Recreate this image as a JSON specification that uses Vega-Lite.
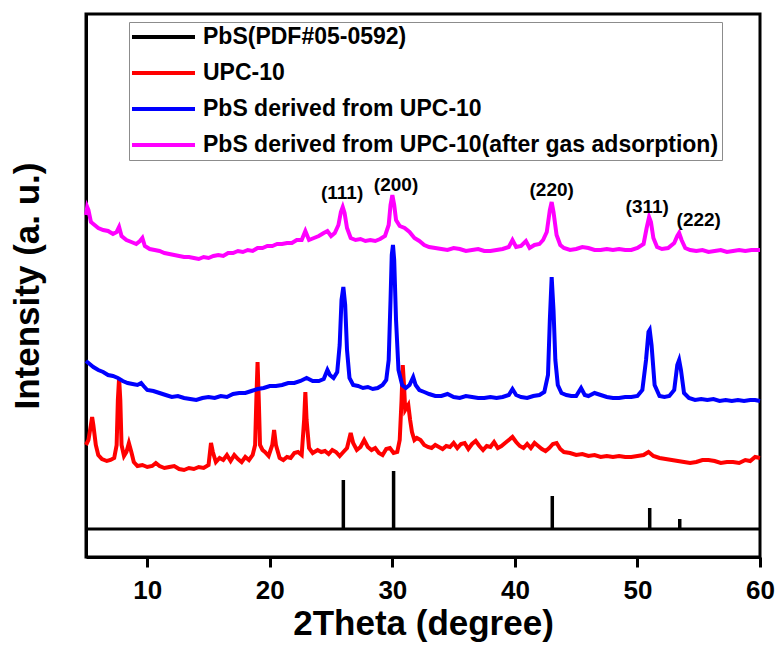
{
  "$schema": "https://vega.github.io/schema/vega-lite/v6.json",
  "width": 674,
  "height": 543,
  "autosize": {"type": "none"},
  "padding": {"left": 86, "top": 14, "right": 19, "bottom": 105},
  "background": "white",
  "datasets": {
    "red": [
      {"t":5.0,"i":112},{"t":5.2,"i":117},{"t":5.4,"i":132},{"t":5.5,"i":140},{"t":5.6,"i":132},{"t":5.8,"i":112},{"t":6.0,"i":102},{"t":6.3,"i":98},{"t":6.7,"i":96},{"t":7.0,"i":97},{"t":7.3,"i":99},{"t":7.5,"i":112},{"t":7.6,"i":157},{"t":7.7,"i":179},{"t":7.8,"i":157},{"t":7.9,"i":112},{"t":8.1,"i":101},{"t":8.3,"i":105},{"t":8.5,"i":114},{"t":8.7,"i":105},{"t":8.9,"i":95},{"t":9.2,"i":91},{"t":9.6,"i":92},{"t":10.0,"i":90},{"t":10.4,"i":91},{"t":10.7,"i":94},{"t":11.0,"i":91},{"t":11.4,"i":89},{"t":11.8,"i":90},{"t":12.2,"i":91},{"t":12.6,"i":88},{"t":13.0,"i":87},{"t":13.4,"i":89},{"t":13.8,"i":88},{"t":14.2,"i":90},{"t":14.6,"i":89},{"t":15.0,"i":92},{"t":15.2,"i":114},{"t":15.35,"i":105},{"t":15.6,"i":95},{"t":15.9,"i":99},{"t":16.2,"i":97},{"t":16.5,"i":102},{"t":16.8,"i":96},{"t":17.1,"i":102},{"t":17.4,"i":98},{"t":17.7,"i":95},{"t":18.0,"i":100},{"t":18.3,"i":97},{"t":18.6,"i":102},{"t":18.8,"i":112},{"t":18.9,"i":157},{"t":19.0,"i":195},{"t":19.1,"i":157},{"t":19.2,"i":112},{"t":19.4,"i":107},{"t":19.6,"i":105},{"t":19.9,"i":101},{"t":20.2,"i":112},{"t":20.35,"i":127},{"t":20.5,"i":112},{"t":20.8,"i":99},{"t":21.1,"i":97},{"t":21.4,"i":100},{"t":21.7,"i":99},{"t":22.0,"i":104},{"t":22.3,"i":105},{"t":22.6,"i":102},{"t":22.8,"i":137},{"t":22.9,"i":165},{"t":23.0,"i":137},{"t":23.2,"i":109},{"t":23.5,"i":104},{"t":23.9,"i":107},{"t":24.2,"i":105},{"t":24.5,"i":106},{"t":24.8,"i":103},{"t":25.1,"i":107},{"t":25.4,"i":105},{"t":25.7,"i":101},{"t":26.0,"i":105},{"t":26.3,"i":109},{"t":26.6,"i":124},{"t":26.8,"i":114},{"t":27.1,"i":107},{"t":27.4,"i":110},{"t":27.7,"i":117},{"t":28.0,"i":110},{"t":28.3,"i":107},{"t":28.6,"i":109},{"t":28.9,"i":104},{"t":29.2,"i":102},{"t":29.5,"i":108},{"t":29.8,"i":109},{"t":30.1,"i":104},{"t":30.4,"i":105},{"t":30.6,"i":117},{"t":30.75,"i":157},{"t":30.85,"i":192},{"t":30.95,"i":172},{"t":31.05,"i":147},{"t":31.2,"i":150},{"t":31.3,"i":152},{"t":31.45,"i":137},{"t":31.6,"i":125},{"t":31.8,"i":117},{"t":32.0,"i":119},{"t":32.3,"i":117},{"t":32.6,"i":112},{"t":32.9,"i":110},{"t":33.2,"i":109},{"t":33.5,"i":112},{"t":33.8,"i":110},{"t":34.1,"i":108},{"t":34.4,"i":111},{"t":34.7,"i":110},{"t":35.0,"i":114},{"t":35.3,"i":109},{"t":35.6,"i":113},{"t":35.9,"i":114},{"t":36.2,"i":108},{"t":36.5,"i":113},{"t":36.8,"i":116},{"t":37.1,"i":111},{"t":37.4,"i":107},{"t":37.7,"i":111},{"t":38.0,"i":110},{"t":38.3,"i":115},{"t":38.6,"i":109},{"t":38.9,"i":111},{"t":39.2,"i":114},{"t":39.5,"i":117},{"t":39.8,"i":120},{"t":40.1,"i":115},{"t":40.4,"i":111},{"t":40.7,"i":109},{"t":41.0,"i":113},{"t":41.3,"i":109},{"t":41.6,"i":114},{"t":41.9,"i":111},{"t":42.2,"i":108},{"t":42.5,"i":106},{"t":42.8,"i":109},{"t":43.1,"i":113},{"t":43.4,"i":114},{"t":43.7,"i":108},{"t":44.0,"i":105},{"t":44.5,"i":104},{"t":45.0,"i":102},{"t":45.5,"i":103},{"t":46.0,"i":101},{"t":46.5,"i":102},{"t":47.0,"i":100},{"t":47.5,"i":101},{"t":48.0,"i":100},{"t":48.5,"i":101},{"t":49.0,"i":100},{"t":49.5,"i":100},{"t":50.0,"i":101},{"t":50.5,"i":102},{"t":50.9,"i":105},{"t":51.3,"i":101},{"t":51.8,"i":99},{"t":52.3,"i":98},{"t":52.8,"i":97},{"t":53.3,"i":96},{"t":53.8,"i":95},{"t":54.3,"i":94},{"t":54.8,"i":95},{"t":55.3,"i":97},{"t":55.8,"i":97},{"t":56.3,"i":96},{"t":56.8,"i":94},{"t":57.3,"i":95},{"t":57.8,"i":95},{"t":58.3,"i":94},{"t":58.8,"i":97},{"t":59.2,"i":96},{"t":59.6,"i":100},{"t":60.0,"i":99}
    ],
    "blue": [
      {"t":5.0,"i":196},{"t":5.3,"i":193},{"t":5.6,"i":190},{"t":6.0,"i":187},{"t":6.4,"i":185},{"t":6.8,"i":182},{"t":7.2,"i":181},{"t":7.6,"i":179},{"t":8.0,"i":176},{"t":8.4,"i":174},{"t":8.8,"i":173},{"t":9.2,"i":172},{"t":9.5,"i":174},{"t":9.7,"i":171},{"t":10.0,"i":167},{"t":10.5,"i":166},{"t":11.0,"i":164},{"t":11.5,"i":162},{"t":12.0,"i":160},{"t":12.5,"i":161},{"t":13.0,"i":159},{"t":13.5,"i":158},{"t":14.0,"i":157},{"t":14.5,"i":159},{"t":15.0,"i":160},{"t":15.5,"i":159},{"t":16.0,"i":161},{"t":16.5,"i":160},{"t":17.0,"i":163},{"t":17.5,"i":164},{"t":18.0,"i":164},{"t":18.5,"i":166},{"t":19.0,"i":168},{"t":19.5,"i":169},{"t":20.0,"i":171},{"t":20.5,"i":171},{"t":21.0,"i":172},{"t":21.5,"i":174},{"t":22.0,"i":174},{"t":22.5,"i":176},{"t":23.0,"i":179},{"t":23.5,"i":176},{"t":24.0,"i":176},{"t":24.4,"i":178},{"t":24.7,"i":187},{"t":24.9,"i":182},{"t":25.2,"i":179},{"t":25.5,"i":185},{"t":25.7,"i":212},{"t":25.85,"i":257},{"t":26.0,"i":270},{"t":26.15,"i":252},{"t":26.3,"i":207},{"t":26.5,"i":179},{"t":26.8,"i":172},{"t":27.2,"i":171},{"t":27.6,"i":169},{"t":28.0,"i":170},{"t":28.4,"i":168},{"t":28.8,"i":169},{"t":29.2,"i":172},{"t":29.5,"i":177},{"t":29.7,"i":197},{"t":29.85,"i":257},{"t":29.95,"i":302},{"t":30.05,"i":312},{"t":30.15,"i":297},{"t":30.3,"i":237},{"t":30.5,"i":187},{"t":30.8,"i":172},{"t":31.1,"i":169},{"t":31.4,"i":172},{"t":31.7,"i":180},{"t":31.9,"i":172},{"t":32.2,"i":167},{"t":32.6,"i":165},{"t":33.0,"i":163},{"t":33.5,"i":161},{"t":34.0,"i":161},{"t":34.5,"i":163},{"t":35.0,"i":160},{"t":35.5,"i":159},{"t":36.0,"i":161},{"t":36.5,"i":160},{"t":37.0,"i":159},{"t":37.5,"i":159},{"t":38.0,"i":160},{"t":38.5,"i":159},{"t":39.0,"i":160},{"t":39.5,"i":162},{"t":39.8,"i":168},{"t":40.1,"i":162},{"t":40.5,"i":160},{"t":41.0,"i":159},{"t":41.5,"i":161},{"t":42.0,"i":162},{"t":42.4,"i":165},{"t":42.7,"i":182},{"t":42.85,"i":237},{"t":43.0,"i":280},{"t":43.15,"i":247},{"t":43.3,"i":197},{"t":43.5,"i":172},{"t":43.8,"i":164},{"t":44.2,"i":162},{"t":44.6,"i":161},{"t":45.0,"i":161},{"t":45.4,"i":169},{"t":45.7,"i":162},{"t":46.0,"i":161},{"t":46.5,"i":164},{"t":47.0,"i":162},{"t":47.5,"i":160},{"t":48.0,"i":159},{"t":48.5,"i":159},{"t":49.0,"i":160},{"t":49.5,"i":160},{"t":50.0,"i":161},{"t":50.4,"i":167},{"t":50.7,"i":197},{"t":50.9,"i":225},{"t":51.0,"i":227},{"t":51.15,"i":212},{"t":51.4,"i":172},{"t":51.8,"i":161},{"t":52.2,"i":160},{"t":52.6,"i":161},{"t":53.0,"i":167},{"t":53.25,"i":192},{"t":53.4,"i":197},{"t":53.55,"i":187},{"t":53.8,"i":164},{"t":54.2,"i":159},{"t":54.7,"i":157},{"t":55.2,"i":158},{"t":55.7,"i":157},{"t":56.2,"i":158},{"t":56.7,"i":156},{"t":57.2,"i":157},{"t":57.7,"i":156},{"t":58.2,"i":157},{"t":58.7,"i":156},{"t":59.2,"i":157},{"t":59.6,"i":157},{"t":60.0,"i":156}
    ],
    "magenta": [
      {"t":5.0,"i":342},{"t":5.1,"i":350},{"t":5.2,"i":347},{"t":5.4,"i":335},{"t":5.7,"i":332},{"t":6.0,"i":329},{"t":6.4,"i":327},{"t":6.8,"i":326},{"t":7.2,"i":323},{"t":7.5,"i":325},{"t":7.7,"i":330},{"t":7.9,"i":321},{"t":8.3,"i":317},{"t":8.7,"i":315},{"t":9.1,"i":313},{"t":9.4,"i":316},{"t":9.6,"i":319},{"t":9.8,"i":311},{"t":10.2,"i":308},{"t":10.6,"i":307},{"t":11.0,"i":306},{"t":11.4,"i":304},{"t":11.8,"i":303},{"t":12.2,"i":302},{"t":12.6,"i":301},{"t":13.0,"i":300},{"t":13.4,"i":300},{"t":13.8,"i":299},{"t":14.2,"i":298},{"t":14.6,"i":300},{"t":15.0,"i":299},{"t":15.4,"i":301},{"t":15.8,"i":302},{"t":16.2,"i":301},{"t":16.6,"i":304},{"t":17.0,"i":304},{"t":17.4,"i":306},{"t":17.8,"i":305},{"t":18.2,"i":307},{"t":18.6,"i":306},{"t":19.0,"i":309},{"t":19.4,"i":309},{"t":19.8,"i":311},{"t":20.2,"i":311},{"t":20.6,"i":313},{"t":21.0,"i":313},{"t":21.4,"i":314},{"t":21.8,"i":314},{"t":22.2,"i":317},{"t":22.6,"i":317},{"t":22.9,"i":326},{"t":23.2,"i":317},{"t":23.6,"i":319},{"t":24.0,"i":321},{"t":24.4,"i":324},{"t":24.7,"i":326},{"t":25.0,"i":321},{"t":25.3,"i":324},{"t":25.6,"i":332},{"t":25.8,"i":345},{"t":25.95,"i":350},{"t":26.1,"i":344},{"t":26.3,"i":329},{"t":26.6,"i":319},{"t":27.0,"i":317},{"t":27.4,"i":318},{"t":27.8,"i":316},{"t":28.2,"i":317},{"t":28.6,"i":316},{"t":29.0,"i":318},{"t":29.4,"i":321},{"t":29.7,"i":332},{"t":29.85,"i":352},{"t":30.0,"i":362},{"t":30.15,"i":352},{"t":30.3,"i":337},{"t":30.6,"i":331},{"t":31.0,"i":329},{"t":31.4,"i":325},{"t":31.8,"i":319},{"t":32.2,"i":316},{"t":32.6,"i":312},{"t":33.0,"i":310},{"t":33.5,"i":309},{"t":34.0,"i":308},{"t":34.5,"i":307},{"t":35.0,"i":309},{"t":35.5,"i":308},{"t":36.0,"i":306},{"t":36.5,"i":307},{"t":37.0,"i":308},{"t":37.5,"i":306},{"t":38.0,"i":306},{"t":38.5,"i":307},{"t":39.0,"i":308},{"t":39.5,"i":310},{"t":39.8,"i":317},{"t":40.1,"i":310},{"t":40.5,"i":311},{"t":40.9,"i":316},{"t":41.2,"i":309},{"t":41.6,"i":312},{"t":42.0,"i":313},{"t":42.3,"i":317},{"t":42.6,"i":325},{"t":42.85,"i":347},{"t":43.0,"i":355},{"t":43.15,"i":345},{"t":43.4,"i":322},{"t":43.7,"i":312},{"t":44.0,"i":309},{"t":44.5,"i":307},{"t":45.0,"i":308},{"t":45.5,"i":310},{"t":46.0,"i":309},{"t":46.5,"i":307},{"t":47.0,"i":307},{"t":47.5,"i":308},{"t":48.0,"i":307},{"t":48.5,"i":308},{"t":49.0,"i":307},{"t":49.5,"i":307},{"t":50.0,"i":309},{"t":50.5,"i":313},{"t":50.75,"i":329},{"t":50.95,"i":340},{"t":51.1,"i":335},{"t":51.3,"i":319},{"t":51.6,"i":310},{"t":52.0,"i":308},{"t":52.5,"i":309},{"t":53.0,"i":314},{"t":53.25,"i":321},{"t":53.4,"i":324},{"t":53.6,"i":317},{"t":53.9,"i":309},{"t":54.3,"i":307},{"t":54.8,"i":306},{"t":55.3,"i":307},{"t":55.8,"i":305},{"t":56.3,"i":306},{"t":56.8,"i":307},{"t":57.3,"i":305},{"t":57.8,"i":306},{"t":58.3,"i":307},{"t":58.8,"i":306},{"t":59.3,"i":307},{"t":59.7,"i":307},{"t":60.0,"i":307}
    ],
    "pdf": [
      {"t":26.0,"i":77},{"t":30.1,"i":86},{"t":43.05,"i":61},{"t":51.0,"i":49},{"t":53.45,"i":38}
    ],
    "base": [{"t":5,"t2":60,"i":28}],
    "majorTicks": [{"t":10},{"t":20},{"t":30},{"t":40},{"t":50},{"t":60}],
    "minorTicks": [{"t":5},{"t":15},{"t":25},{"t":35},{"t":45},{"t":55}],
    "peaks": [
      {"t":25.9,"i":364,"lab":"(111)"},{"t":30.3,"i":372,"lab":"(200)"},{"t":43.0,"i":367,"lab":"(220)"},{"t":50.8,"i":350,"lab":"(311)"},{"t":55.0,"i":337,"lab":"(222)"}
    ]
  },
  "encoding": {
    "x": {
      "field": "t",
      "type": "quantitative",
      "scale": {"domain": [5, 60], "nice": false, "zero": false},
      "axis": {
        "title": "2Theta (degree)",
        "values": [10,20,30,40,50,60],
        "labelFontSize": 26,
        "labelFlush": false,
        "labelOverlap": false,
        "labelPadding": 10,
        "tickSize": 10,
        "zindex": 1,
        "titleFontSize": 35,
        "titlePadding": 3
      }
    },
    "y": {
      "field": "i",
      "type": "quantitative",
      "scale": {"domain": [0, 543], "nice": false, "zero": false},
      "axis": {
        "title": "Intensity (a. u.)",
        "labels": false,
        "ticks": false,
        "titleFontSize": 35,
        "titlePadding": 41
      }
    }
  },
  "layer": [
    {
      "data": {"name": "majorTicks"},
      "mark": {"type": "rule", "strokeWidth": 3, "color": "black", "clip": false},
      "encoding": {
        "y": {"datum": 0, "type": "quantitative"},
        "y2": {"datum": -10}
      }
    },
    {
      "data": {"name": "minorTicks"},
      "mark": {"type": "rule", "strokeWidth": 3, "color": "black", "clip": false},
      "encoding": {
        "y": {"datum": 0, "type": "quantitative"},
        "y2": {"datum": -7}
      }
    },
    {
      "data": {"name": "base"},
      "mark": {"type": "rule", "strokeWidth": 3, "color": "black"},
      "encoding": {
        "x2": {"field": "t2"}
      }
    },
    {
      "data": {"name": "pdf"},
      "mark": {"type": "rule", "strokeWidth": 3.5},
      "encoding": {
        "y2": {"datum": 28},
        "color": {
          "datum": "PbS(PDF#05-0592)",
          "type": "nominal",
          "scale": {
            "domain": ["PbS(PDF#05-0592)", "UPC-10", "PbS derived from UPC-10", "PbS derived from UPC-10(after gas adsorption)"],
            "range": ["#000000", "#FF0000", "#0000FF", "#FF00FF"]
          }
        }
      }
    },
    {
      "data": {"name": "red"},
      "mark": {"type": "line", "strokeWidth": 4},
      "encoding": {
        "color": {"datum": "UPC-10", "type": "nominal"}
      }
    },
    {
      "data": {"name": "blue"},
      "mark": {"type": "line", "strokeWidth": 4},
      "encoding": {
        "color": {"datum": "PbS derived from UPC-10", "type": "nominal"}
      }
    },
    {
      "data": {"name": "magenta"},
      "mark": {"type": "line", "strokeWidth": 4},
      "encoding": {
        "color": {"datum": "PbS derived from UPC-10(after gas adsorption)", "type": "nominal"}
      }
    },
    {
      "data": {"name": "peaks"},
      "mark": {"type": "text", "font": "Liberation Sans", "fontWeight": "bold", "fontSize": 19, "color": "black", "baseline": "middle", "align": "center"},
      "encoding": {
        "text": {"field": "lab"}
      }
    }
  ],
  "config": {
    "view": {"stroke": "black", "strokeWidth": 3},
    "axis": {
      "grid": false,
      "domainColor": "black",
      "domainWidth": 3,
      "tickColor": "black",
      "tickWidth": 3,
      "labelFont": "Liberation Sans",
      "labelFontWeight": "bold",
      "labelColor": "black",
      "titleFont": "Liberation Sans",
      "titleFontWeight": "bold",
      "titleColor": "black"
    },
    "legend": {
      "orient": "none",
      "legendX": 43,
      "legendY": 8,
      "title": null,
      "strokeColor": "#8c8c8c",
      "padding": 3,
      "symbolType": "M-1.2,0H5.1",
      "symbolSize": 400,
      "symbolStrokeWidth": 4,
      "labelFont": "Liberation Sans",
      "labelFontWeight": "bold",
      "labelFontSize": 23,
      "labelColor": "black",
      "labelOffset": 47,
      "labelLimit": 1000,
      "rowPadding": 12
    }
  }
}
